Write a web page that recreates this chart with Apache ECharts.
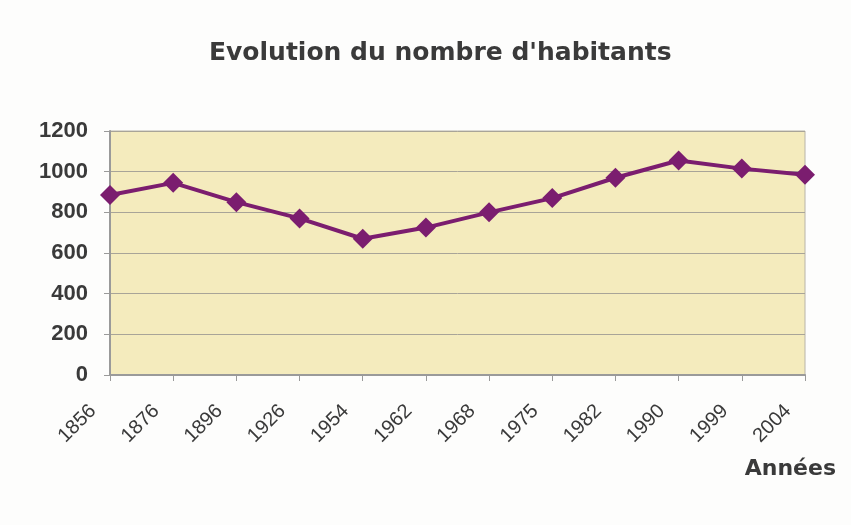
<!DOCTYPE html>
<html>
<head>
<meta charset="utf-8">
<script src="https://cdn.jsdelivr.net/npm/echarts@6/dist/echarts.min.js"></script>
<style>
  html, body { margin: 0; padding: 0; background: #fff; }
  #chart { width: 851px; height: 525px; }
</style>
</head>
<body>
<div id="chart"></div>
<script>
// années du recensement
const years = ['1856', '1876', '1896', '1926', '1954', '1962', '1968', '1975', '1982', '1990', '1999', '2004']
// nombre d'habitants
const habitants = [885, 945, 850, 770, 670, 725, 800, 870, 970, 1055, 1015, 985]

const chart = echarts.init(document.getElementById('chart'))

const option = {
  backgroundColor: '#fdfdfc',
  textStyle: { fontFamily: 'Liberation Sans, Arial, sans-serif' },
  title: [
    {
      text: "Evolution du nombre d'habitants",
      left: 204,
      top: 36,
      textStyle: { fontSize: 25, fontWeight: 'bold', color: '#3a3a3a', fontFamily: 'DejaVu Sans' }
    },
    {
      text: 'Années',
      right: 10,
      top: 453,
      textStyle: { fontSize: 22, fontWeight: 'bold', color: '#3a3a3a', fontFamily: 'DejaVu Sans' }
    }
  ],
  grid: {
    left: 110,
    right: 46,
    top: 131,
    bottom: 150,
    show: true,
    backgroundColor: '#f4ebbd',
    borderColor: '#b8b4a8',
    borderWidth: 1
  },
  xAxis: {
    type: 'category',
    data: years,
    boundaryGap: false,
    axisLine: { lineStyle: { color: '#9a9a9a', width: 2 } },
    axisTick: { alignWithLabel: true, length: 6, lineStyle: { color: '#9a9a9a' } },
    axisLabel: { rotate: 45, fontSize: 20, color: '#3a3a3a', margin: 16, padding: [0, 24, 0, 0] }
  },
  yAxis: {
    type: 'value',
    min: 0,
    max: 1200,
    interval: 200,
    axisLine: { show: true, lineStyle: { color: '#9a9a9a', width: 2 } },
    axisTick: { show: true, length: 6, lineStyle: { color: '#9a9a9a' } },
    axisLabel: {
      fontSize: 22,
      fontWeight: 'bold',
      color: '#3a3a3a',
      margin: 22,
      formatter: v => String(v)
    },
    splitLine: { lineStyle: { color: '#a8a498', width: 1 } }
  },
  series: [
    {
      type: 'line',
      data: habitants,
      symbol: 'diamond',
      symbolSize: 20,
      lineStyle: { width: 4, color: '#7b1d6f' },
      itemStyle: { color: '#7b1d6f' }
    }
  ]
}

chart.setOption(option)
</script>
</body>
</html>
